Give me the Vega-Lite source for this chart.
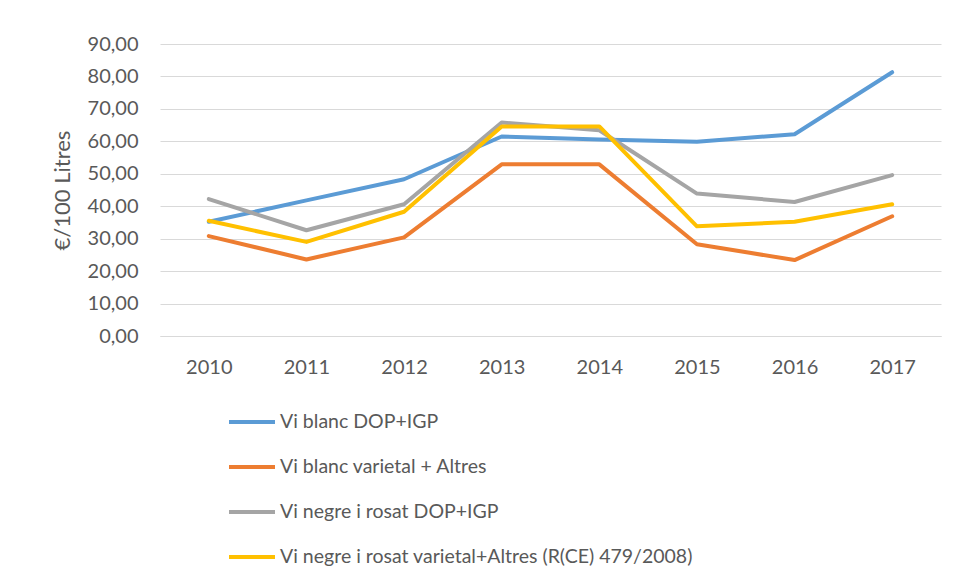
{
  "$schema": "https://vega.github.io/schema/vega-lite/v6.json",
  "width": 781,
  "height": 292,
  "autosize": {"type": "none"},
  "padding": {"left": 160, "top": 44, "right": 16, "bottom": 247},
  "background": "white",
  "data": {
    "values": [
      {"year": "2010", "series": "Vi blanc DOP+IGP", "value": 35.2},
      {"year": "2011", "series": "Vi blanc DOP+IGP", "value": 41.8},
      {"year": "2012", "series": "Vi blanc DOP+IGP", "value": 48.3},
      {"year": "2013", "series": "Vi blanc DOP+IGP", "value": 61.5},
      {"year": "2014", "series": "Vi blanc DOP+IGP", "value": 60.6},
      {"year": "2015", "series": "Vi blanc DOP+IGP", "value": 59.9},
      {"year": "2016", "series": "Vi blanc DOP+IGP", "value": 62.2},
      {"year": "2017", "series": "Vi blanc DOP+IGP", "value": 81.3},
      {"year": "2010", "series": "Vi blanc varietal + Altres", "value": 30.8},
      {"year": "2011", "series": "Vi blanc varietal + Altres", "value": 23.6},
      {"year": "2012", "series": "Vi blanc varietal + Altres", "value": 30.4},
      {"year": "2013", "series": "Vi blanc varietal + Altres", "value": 52.9},
      {"year": "2014", "series": "Vi blanc varietal + Altres", "value": 52.9},
      {"year": "2015", "series": "Vi blanc varietal + Altres", "value": 28.3},
      {"year": "2016", "series": "Vi blanc varietal + Altres", "value": 23.4},
      {"year": "2017", "series": "Vi blanc varietal + Altres", "value": 36.9},
      {"year": "2010", "series": "Vi negre i rosat DOP+IGP", "value": 42.2},
      {"year": "2011", "series": "Vi negre i rosat DOP+IGP", "value": 32.6},
      {"year": "2012", "series": "Vi negre i rosat DOP+IGP", "value": 40.6},
      {"year": "2013", "series": "Vi negre i rosat DOP+IGP", "value": 65.8},
      {"year": "2014", "series": "Vi negre i rosat DOP+IGP", "value": 63.4},
      {"year": "2015", "series": "Vi negre i rosat DOP+IGP", "value": 43.9},
      {"year": "2016", "series": "Vi negre i rosat DOP+IGP", "value": 41.3},
      {"year": "2017", "series": "Vi negre i rosat DOP+IGP", "value": 49.6},
      {"year": "2010", "series": "Vi negre i rosat varietal+Altres (R(CE) 479/2008)", "value": 35.5},
      {"year": "2011", "series": "Vi negre i rosat varietal+Altres (R(CE) 479/2008)", "value": 29.0},
      {"year": "2012", "series": "Vi negre i rosat varietal+Altres (R(CE) 479/2008)", "value": 38.3},
      {"year": "2013", "series": "Vi negre i rosat varietal+Altres (R(CE) 479/2008)", "value": 64.6},
      {"year": "2014", "series": "Vi negre i rosat varietal+Altres (R(CE) 479/2008)", "value": 64.6},
      {"year": "2015", "series": "Vi negre i rosat varietal+Altres (R(CE) 479/2008)", "value": 33.8},
      {"year": "2016", "series": "Vi negre i rosat varietal+Altres (R(CE) 479/2008)", "value": 35.2},
      {"year": "2017", "series": "Vi negre i rosat varietal+Altres (R(CE) 479/2008)", "value": 40.6}
    ]
  },
  "mark": {"type": "line", "strokeWidth": 4, "strokeJoin": "round", "strokeCap": "round"},
  "encoding": {
    "x": {
      "field": "year",
      "type": "ordinal",
      "scale": {"type": "point", "padding": 0.5},
      "axis": {
        "title": null,
        "labelAngle": 0,
        "ticks": false,
        "domain": true,
        "domainColor": "#d9d9d9",
        "grid": false,
        "labelPadding": 21,
        "labelFontSize": 20,
        "labelColor": "#595959",
        "labelFont": "Lato"
      }
    },
    "y": {
      "field": "value",
      "type": "quantitative",
      "scale": {"domain": [0, 90], "nice": false},
      "axis": {
        "title": "€/100 Litres",
        "values": [0, 10, 20, 30, 40, 50, 60, 70, 80, 90],
        "labelExpr": "replace(format(datum.value, '.2f'), '.', ',')",
        "ticks": false,
        "domain": false,
        "grid": true,
        "gridColor": "#d9d9d9",
        "gridWidth": 1,
        "labelPadding": 22,
        "labelFontSize": 20,
        "labelColor": "#595959",
        "labelFont": "Lato",
        "titleFont": "Lato",
        "titleFontSize": 22,
        "titleFontWeight": "normal",
        "titleColor": "#595959",
        "titleX": -98,
        "titleY": 146,
        "titleAngle": -90,
        "titleAlign": "center",
        "titleBaseline": "middle"
      }
    },
    "color": {
      "field": "series",
      "type": "nominal",
      "sort": ["Vi blanc DOP+IGP", "Vi blanc varietal + Altres", "Vi negre i rosat DOP+IGP", "Vi negre i rosat varietal+Altres (R(CE) 479/2008)"],
      "scale": {
        "domain": ["Vi blanc DOP+IGP", "Vi blanc varietal + Altres", "Vi negre i rosat DOP+IGP", "Vi negre i rosat varietal+Altres (R(CE) 479/2008)"],
        "range": ["#5B9BD5", "#ED7D31", "#A5A5A5", "#FFC000"]
      },
      "legend": {
        "title": null,
        "orient": "none",
        "legendX": 67,
        "legendY": 353,
        "direction": "vertical",
        "symbolType": "stroke",
        "symbolSize": 2116,
        "symbolStrokeWidth": 4,
        "labelFontSize": 19.5,
        "labelFont": "Lato",
        "labelColor": "#595959",
        "labelOffset": 3,
        "labelLimit": 600,
        "rowPadding": 10
      }
    }
  },
  "config": {"view": {"stroke": null}}
}
